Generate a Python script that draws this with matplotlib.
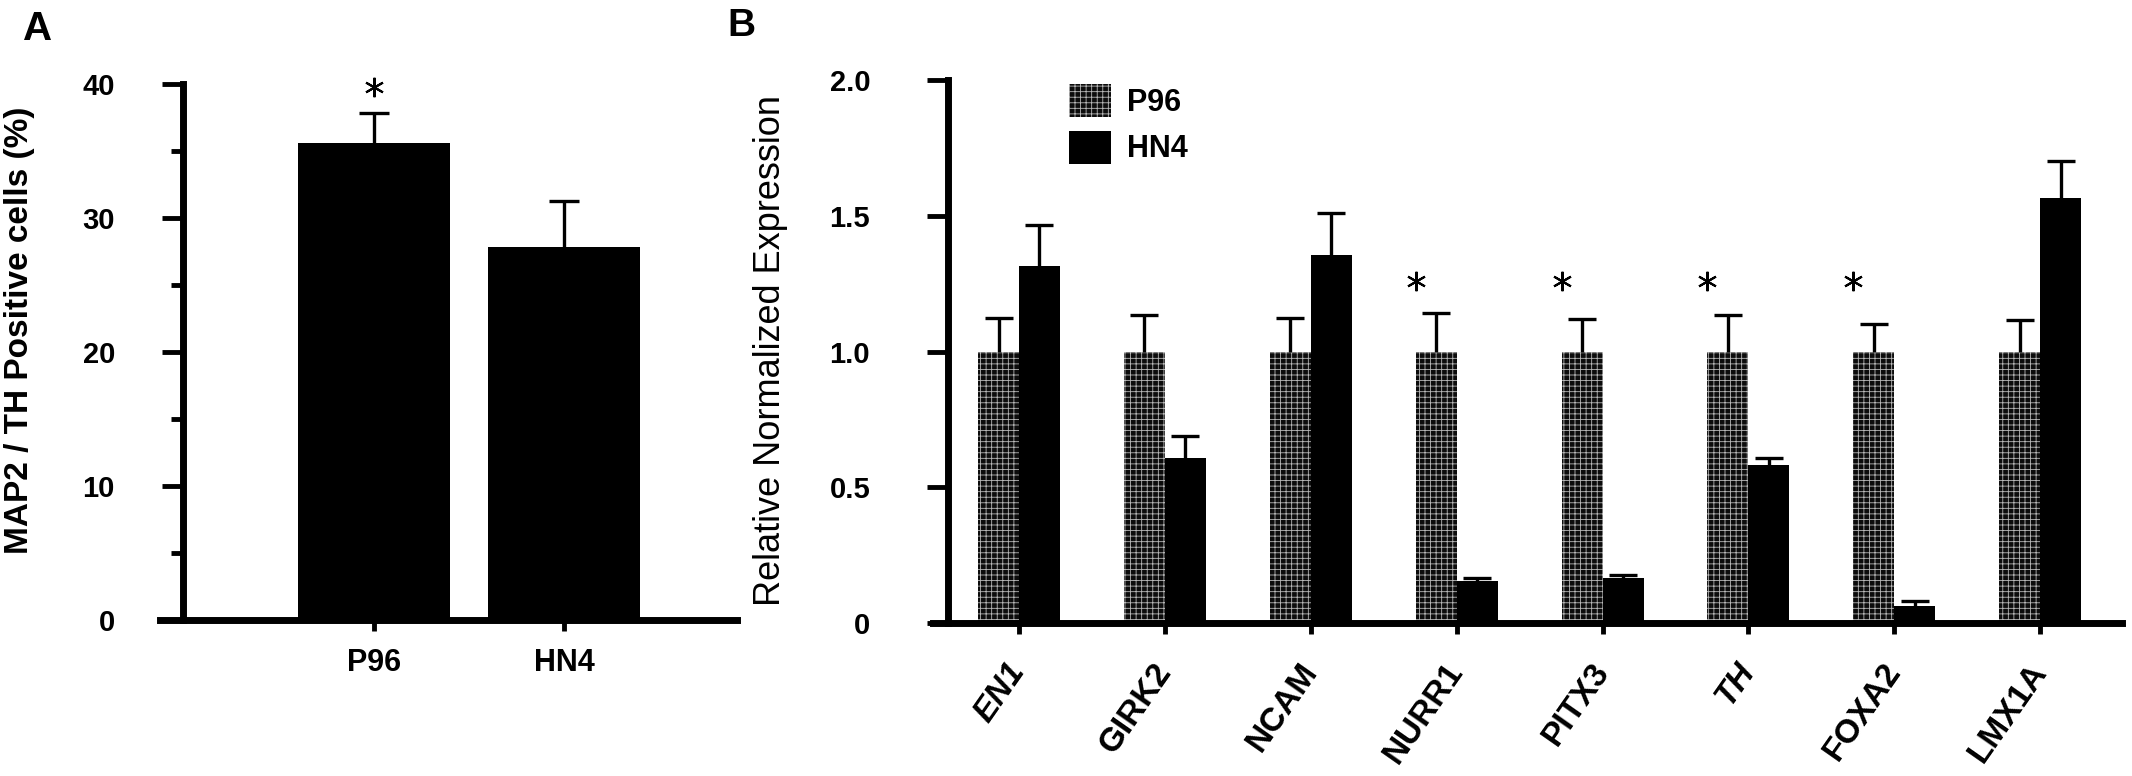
import matplotlib
matplotlib.use("Agg")
import matplotlib.pyplot as plt
from matplotlib.patches import Patch
import numpy as np

plt.rcParams['font.family'] = ['Liberation Sans', 'DejaVu Sans']
plt.rcParams['hatch.linewidth'] = 0.6

# panel A data
groups_a = ['P96', 'HN4']
means_a = [35.6, 27.8]
err_a = [2.2, 3.5]
sig_a = [0]  # P96 starred

# panel B data
genes = ['EN1', 'GIRK2', 'NCAM', 'NURR1', 'PITX3', 'TH', 'FOXA2', 'LMX1A']
italic_genes = ['EN1', 'TH']
p96 = [1.0, 1.0, 1.0, 1.0, 1.0, 1.0, 1.0, 1.0]
p96_err = [0.124, 0.133, 0.124, 0.142, 0.120, 0.133, 0.100, 0.115]
hn4 = [1.315, 0.608, 1.355, 0.153, 0.164, 0.583, 0.062, 1.566]
hn4_err = [0.151, 0.079, 0.155, 0.011, 0.014, 0.025, 0.018, 0.137]
sig_b = [3, 4, 5, 6]
star_y_b = 1.26

HATCH_FACE = '#0c0c0c'
HATCH_LINE = '#b8b8b8'

fig = plt.figure(figsize=(21.32, 7.76), dpi=100)

def style_axes(ax, spine_pos):
    for s in ['top', 'right']:
        ax.spines[s].set_visible(False)
    ax.spines['left'].set_linewidth(5)
    ax.spines['bottom'].set_linewidth(5)
    ax.spines['left'].set_position(('axes', spine_pos))
    ax.tick_params(axis='y', which='major', length=15, width=3.5, direction='out')
    ax.tick_params(axis='y', which='minor', length=9, width=3.5, direction='out')
    ax.tick_params(axis='x', which='major', length=8, width=3.5, direction='out')

def up_errors(ax, x, vals, errs, cap_ms):
    # only the upper half of each error bar, like the original
    tops = np.array(vals) + np.array(errs)
    ax.vlines(x, vals, tops, colors='black', linewidth=2.4, zorder=3)
    ax.plot(x, tops, linestyle='none', marker='_', ms=cap_ms, mew=2.4, color='black', zorder=3)

# ---- panel A ----
axA = fig.add_axes([0.07505, 0.20103, 0.27064, 0.69072])
xa = np.arange(len(groups_a))
axA.bar(xa, means_a, width=0.8, color='black', linewidth=0, zorder=2)
up_errors(axA, xa, means_a, err_a, 22)
for i in sig_a:
    axA.plot(xa[i], means_a[i] + err_a[i] + 2.0, marker=(6, 2, 0), ms=14, mew=1.5,
             color='black', clip_on=False, zorder=4)
style_axes(axA, 0.0399)
axA.set_xlim(-1.1263, 1.9105)
axA.set_ylim(0, 40)
axA.set_yticks([0, 10, 20, 30, 40])
axA.set_yticks([5, 15, 25, 35], minor=True)
axA.set_yticklabels(['0', '10', '20', '30', '40'], fontsize=21, fontweight='bold')
axA.tick_params(axis='y', which='major', pad=34)
axA.set_xticks(xa)
axA.set_xticklabels(groups_a, fontsize=22, fontweight='bold')
axA.tick_params(axis='x', pad=12)
fig.text(20 / 2132, 1 - 330 / 776, 'MAP2 / TH Positive cells (%)', rotation=90,
         ha='center', va='center', fontsize=24, fontweight='bold')
fig.text(23 / 2132, 1 - 10 / 776, 'A', ha='left', va='top', fontsize=29, fontweight='bold')

# ---- panel B ----
axB = fig.add_axes([0.43762, 0.19716, 0.55769, 0.69974])
xb = np.arange(len(genes))
w = 0.281
axB.bar(xb - w / 2, p96, width=w, color=HATCH_FACE, edgecolor=HATCH_LINE, linewidth=0,
        hatch='+++', zorder=2)
axB.bar(xb + w / 2, hn4, width=w, color='black', linewidth=0, zorder=2)
up_errors(axB, xb - w / 2, p96, p96_err, 20)
up_errors(axB, xb + w / 2, hn4, hn4_err, 20)
for i in sig_b:
    axB.plot(xb[i] - w, star_y_b, marker=(6, 2, 0), ms=14, mew=1.5, color='black', zorder=4)
style_axes(axB, 0.0126)
axB.set_xlim(-0.5894, 7.560)
axB.set_ylim(0, 2.0)
axB.set_yticks([0, 0.5, 1.0, 1.5, 2.0])
axB.set_yticklabels(['0', '0.5', '1.0', '1.5', '2.0'], fontsize=21, fontweight='bold')
axB.tick_params(axis='y', which='major', pad=41)
axB.set_xticks(xb)
labels = axB.set_xticklabels(genes, fontsize=24, fontweight='bold',
                             rotation=55, ha='right', va='center', rotation_mode='anchor')
for lab in labels:
    if lab.get_text() in italic_genes:
        lab.set_fontstyle('italic')
axB.tick_params(axis='x', pad=23)
handles = [Patch(facecolor=HATCH_FACE, edgecolor=HATCH_LINE, linewidth=0, hatch='+++'),
           Patch(facecolor='black', linewidth=0)]
axB.legend(handles, ['P96', 'HN4'], loc='upper left', bbox_to_anchor=(0.114, 0.993),
           frameon=False, borderpad=0, borderaxespad=0, handlelength=1.4, handleheight=1.3,
           handletextpad=0.5, labelspacing=0.42, prop={'size': 22, 'weight': 'bold'})
fig.text(771 / 2132, 1 - 350 / 776, 'Relative Normalized Expression', rotation=90,
         ha='center', va='center', fontsize=26)
fig.text(727 / 2132, 1 - 8 / 776, 'B', ha='left', va='top', fontsize=28, fontweight='bold')

fig.savefig('out.png', dpi=100)
